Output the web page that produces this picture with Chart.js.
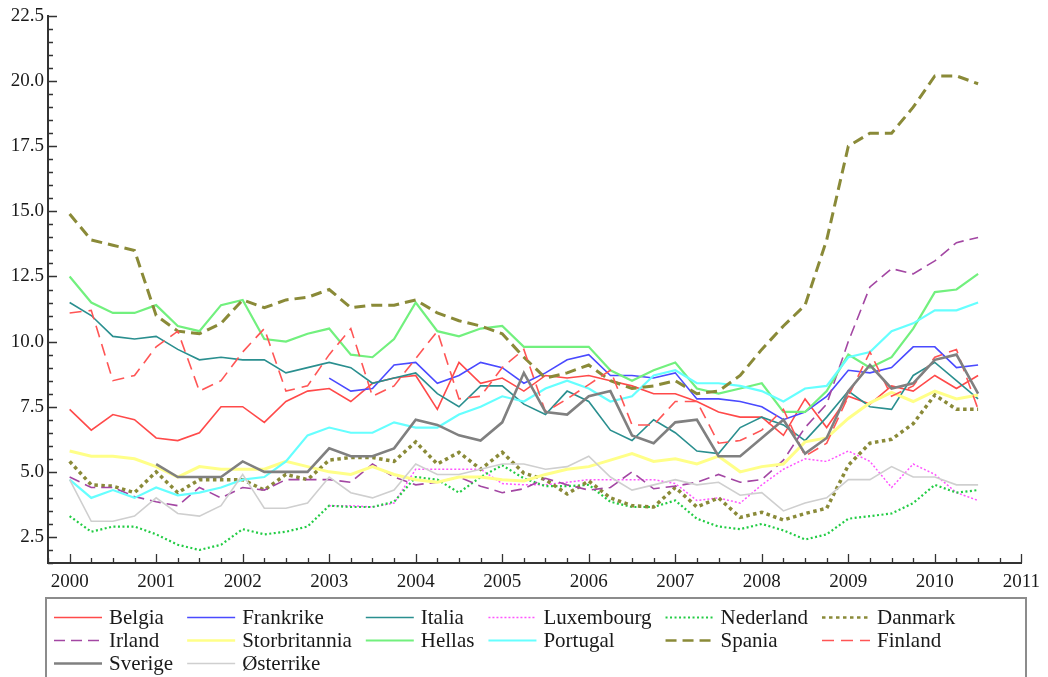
<!DOCTYPE html>
<html>
<head>
<meta charset="utf-8">
<script src="https://cdn.jsdelivr.net/npm/chart.js@4.4.1/dist/chart.umd.min.js"></script>
<style>
  html, body { margin: 0; padding: 0; background: #ffffff; }
  #wrap { width: 1048px; height: 677px; }
</style>
</head>
<body>
<div id="wrap"><canvas id="c" width="1048" height="677"></canvas></div>
<script>
// Quarterly observations, 2000 Q1 – 2010 Q3
const quarters = [
  2000.00, 2000.25, 2000.50, 2000.75, 2001.00, 2001.25, 2001.50, 2001.75,
  2002.00, 2002.25, 2002.50, 2002.75, 2003.00, 2003.25, 2003.50, 2003.75,
  2004.00, 2004.25, 2004.50, 2004.75, 2005.00, 2005.25, 2005.50, 2005.75,
  2006.00, 2006.25, 2006.50, 2006.75, 2007.00, 2007.25, 2007.50, 2007.75,
  2008.00, 2008.25, 2008.50, 2008.75, 2009.00, 2009.25, 2009.50, 2009.75,
  2010.00, 2010.25, 2010.50
];

const belgia = [7.4, 6.6, 7.2, 7.0, 6.3, 6.2, 6.5, 7.5, 7.5, 6.9, 7.7, 8.1,
  8.2, 7.7, 8.4, 8.6, 8.7, 7.4, 9.2, 8.4, 8.6, 8.1, 8.7, 8.6,
  8.7, 8.5, 8.3, 8.0, 8.0, 7.7, 7.3, 7.1, 7.1, 6.4, 7.8, 6.7,
  7.9, 7.6, 8.3, 8.1, 8.7, 8.2, 8.7];
const frankrike = [null, null, null, null, null, null, null, null, null, null, null, null,
  8.6, 8.1, 8.2, 9.1, 9.2, 8.4, 8.7, 9.2, 9.0, 8.4, 8.8, 9.3,
  9.5, 8.7, 8.7, 8.6, 8.8, 7.8, 7.8, 7.7, 7.5, 7.0, 7.3, 7.9,
  8.9, 8.8, 9.0, 9.8, 9.8, 9.0, 9.1];
const italia = [11.5, 11.0, 10.2, 10.1, 10.2, 9.7, 9.3, 9.4, 9.3, 9.3, 8.8, 9.0,
  9.2, 9.0, 8.4, 8.6, 8.8, 8.0, 7.5, 8.3, 8.3, 7.6, 7.2, 8.1,
  7.7, 6.6, 6.2, 7.0, 6.5, 5.8, 5.7, 6.7, 7.1, 6.8, 6.2, 7.1,
  8.1, 7.5, 7.4, 8.7, 9.2, 8.5, 7.8];
const luxembourg = [null, null, null, null, null, null, null, null, null, null, null, null,
  3.7, 3.7, 3.65, 3.8, 5.1, 5.1, 5.1, 5.1, 4.55, 4.5, 4.5, 4.6,
  4.7, 4.7, 4.7, 4.7, 4.55, 3.9, 4.0, 3.8, 4.5, 5.1, 5.5, 5.4,
  5.8, 5.4, 4.4, 5.3, 4.9, 4.2, 3.9];
const nederland = [3.3, 2.7, 2.9, 2.9, 2.6, 2.2, 2.0, 2.2, 2.8, 2.6, 2.7, 2.9,
  3.7, 3.65, 3.65, 3.85, 4.8, 4.7, 4.2, 4.8, 5.25, 4.75, 4.45, 4.45,
  4.5, 3.85, 3.65, 3.65, 3.9, 3.2, 2.9, 2.8, 3.0, 2.75, 2.4, 2.6,
  3.2, 3.3, 3.4, 3.8, 4.5, 4.2, 4.3];
const danmark = [5.4, 4.5, 4.45, 4.2, 5.0, 4.2, 4.7, 4.7, 4.7, 4.3, 4.9, 4.7,
  5.45, 5.55, 5.55, 5.4, 6.15, 5.3, 5.75, 5.1, 5.75, 4.95, 4.7, 4.15,
  4.65, 4.0, 3.7, 3.65, 4.4, 3.65, 4.0, 3.25, 3.45, 3.15, 3.4, 3.6,
  5.25, 6.1, 6.25, 6.85, 7.95, 7.4, 7.4];
const irland = [4.8, 4.4, 4.4, 4.05, 3.85, 3.7, 4.4, 4.0, 4.4, 4.3, 4.7, 4.7,
  4.7, 4.6, 5.3, 4.8, 4.5, 4.6, 4.8, 4.45, 4.2, 4.35, 4.75, 4.5,
  4.3, 4.4, 5.0, 4.35, 4.45, 4.6, 4.9, 4.6, 4.7, 5.45, 6.7, 7.6,
  10.0, 12.1, 12.8, 12.6, 13.1, 13.8, 14.0];
const storbritannia = [5.8, 5.6, 5.6, 5.5, 5.2, 4.8, 5.2, 5.1, 5.1, 5.1, 5.4, 5.2,
  5.0, 4.9, 5.2, 4.9, 4.7, 4.6, 4.8, 4.8, 4.7, 4.65, 4.9, 5.1,
  5.2, 5.45, 5.7, 5.4, 5.5, 5.3, 5.6, 5.0, 5.2, 5.3, 6.15, 6.3,
  7.05, 7.65, 8.05, 7.7, 8.1, 7.8, 7.95];
const hellas = [12.5, 11.5, 11.1, 11.1, 11.4, 10.6, 10.4, 11.4, 11.6, 10.1, 10.0, 10.3,
  10.5, 9.5, 9.4, 10.1, 11.5, 10.4, 10.2, 10.5, 10.6, 9.8, 9.8, 9.8,
  9.8, 8.9, 8.5, 8.9, 9.2, 8.2, 8.0, 8.2, 8.4, 7.3, 7.3, 8.1,
  9.5, 9.0, 9.4, 10.5, 11.9, 12.0, 12.6];
const portugal = [4.7, 4.0, 4.3, 4.0, 4.4, 4.1, 4.2, 4.4, 4.7, 4.8, 5.4, 6.4,
  6.7, 6.5, 6.5, 6.9, 6.7, 6.7, 7.2, 7.5, 7.9, 7.7, 8.2, 8.5,
  8.2, 7.7, 7.9, 8.7, 8.9, 8.4, 8.4, 8.3, 8.1, 7.7, 8.2, 8.3,
  9.4, 9.6, 10.4, 10.7, 11.2, 11.2, 11.5];
const spania = [14.9, 13.9, 13.7, 13.5, 11.0, 10.4, 10.3, 10.7, 11.6, 11.3, 11.6, 11.7,
  12.0, 11.3, 11.4, 11.4, 11.6, 11.1, 10.8, 10.6, 10.3, 9.4, 8.6, 8.8,
  9.1, 8.5, 8.2, 8.3, 8.5, 8.0, 8.1, 8.7, 9.7, 10.6, 11.4, 13.9,
  17.5, 18.0, 18.0, 19.0, 20.2, 20.2, 19.9];
const finland = [11.1, 11.2, 8.5, 8.7, 9.8, 10.4, 8.1, 8.5, 9.6, 10.5, 8.1, 8.3,
  9.5, 10.5, 7.9, 8.3, 9.35, 10.4, 7.8, 7.9, 9.0, 9.7, 7.3, 7.8,
  8.35, 8.9, 6.8, 6.8, 7.7, 7.7, 6.1, 6.2, 6.6, 7.4, 5.6, 6.1,
  7.9, 9.6, 7.9, 8.3, 9.4, 9.7, 7.4];
const sverige = [null, null, null, null, 5.3, 4.8, 4.8, 4.8, 5.4, 5.0, 5.0, 5.0,
  5.9, 5.6, 5.6, 5.9, 7.0, 6.8, 6.4, 6.2, 6.9, 8.8, 7.3, 7.2,
  7.9, 8.1, 6.4, 6.1, 6.9, 7.0, 5.6, 5.6, 6.3, 7.0, 5.7, 6.3,
  8.1, 9.1, 8.2, 8.4, 9.3, 9.5, 8.0];
const osterrike = [4.7, 3.1, 3.1, 3.3, 4.0, 3.4, 3.3, 3.7, 4.9, 3.6, 3.6, 3.8,
  4.8, 4.2, 4.0, 4.3, 5.3, 4.9, 4.9, 5.1, 5.3, 5.3, 5.1, 5.2,
  5.6, 4.8, 4.3, 4.5, 4.7, 4.5, 4.6, 4.1, 4.2, 3.5, 3.8, 4.0,
  4.7, 4.7, 5.2, 4.8, 4.8, 4.5, 4.5];

// Axis tick labels
const yTickValues = [2.5, 5.0, 7.5, 10.0, 12.5, 15.0, 17.5, 20.0, 22.5];
const xTickValues = [2000, 2001, 2002, 2003, 2004, 2005, 2006, 2007, 2008, 2009, 2010, 2011];

const seriesDefs = [
  { label: 'Belgia',        data: belgia,        color: '#ff4a4a', width: 1.6, dash: [] },
  { label: 'Frankrike',     data: frankrike,     color: '#4a4aff', width: 1.6, dash: [] },
  { label: 'Italia',        data: italia,        color: '#2a8f8f', width: 1.6, dash: [] },
  { label: 'Luxembourg',    data: luxembourg,    color: '#ff55ff', width: 1.5, dash: [2, 2] },
  { label: 'Nederland',     data: nederland,     color: '#22cc44', width: 2.2, dash: [2, 2.5] },
  { label: 'Danmark',       data: danmark,       color: '#8a8a38', width: 3.5, dash: [3.5, 3.5] },
  { label: 'Irland',        data: irland,        color: '#a347a3', width: 1.6, dash: [11, 6] },
  { label: 'Storbritannia', data: storbritannia, color: '#ffff88', width: 3, dash: [] },
  { label: 'Hellas',        data: hellas,        color: '#72f07e', width: 2.2, dash: [] },
  { label: 'Portugal',      data: portugal,      color: '#66ffff', width: 2.2, dash: [] },
  { label: 'Spania',        data: spania,        color: '#8a8a38', width: 3, dash: [11, 6] },
  { label: 'Finland',       data: finland,       color: '#ff5555', width: 1.6, dash: [12, 7] },
  { label: 'Sverige',       data: sverige,       color: '#808080', width: 2.6, dash: [] },
  { label: 'Østerrike',     data: osterrike,     color: '#cfcfcf', width: 1.6, dash: [] }
];

const FONT = '"Liberation Serif", "Times New Roman", serif';

const datasets = seriesDefs.map((s, i) => ({
  label: s.label,
  data: quarters.map((q, k) => ({ x: q, y: s.data[k] })),
  borderColor: s.color,
  backgroundColor: s.color,
  borderWidth: s.width,
  borderDash: s.dash,
  borderCapStyle: 'butt',
  borderJoinStyle: 'miter',
  pointRadius: 0,
  pointHoverRadius: 0,
  tension: 0,
  spanGaps: false,
  fill: false,
  order: seriesDefs.length - i
}));

// Inward tick marks: years with quarter subdivisions, values every 0.5
const innerTicks = {
  id: 'innerTicks',
  afterDatasetsDraw(chart) {
    const { ctx, chartArea: a, scales: { x, y } } = chart;
    ctx.save();
    ctx.strokeStyle = '#333333';
    ctx.lineWidth = 1.3;
    ctx.beginPath();
    for (let q = 0; q <= (x.max - x.min) * 4 + 1e-6; q++) {
      const v = x.min + q * 0.25;
      const px = Math.round(x.getPixelForValue(v)) + 0.5;
      const major = Math.abs(v - Math.round(v)) < 1e-6;
      const len = major ? 9 : 5;
      ctx.moveTo(px, a.bottom);
      ctx.lineTo(px, a.bottom - len);
    }
    for (let k = 0; k <= (y.max - y.min) * 2 + 1e-6; k++) {
      const v = y.min + k * 0.5;
      const py = Math.round(y.getPixelForValue(v)) + 0.5;
      const major = Math.abs(v / 2.5 - Math.round(v / 2.5)) < 1e-6;
      const len = major ? 9 : 5;
      ctx.moveTo(a.left, py);
      ctx.lineTo(a.left + len, py);
    }
    ctx.stroke();
    ctx.restore();
  }
};

// Boxed legend laid out as a grid of six columns
const gridLegend = {
  id: 'gridLegend',
  afterDraw(chart) {
    const { ctx } = chart;
    const cols = 6;
    const lineLen = 48, lineGap = 7, colGap = 14;
    const startX = 54, firstRowY = 617, rowStep = 23;
    ctx.save();
    ctx.font = '21px ' + FONT;
    const metas = chart.data.datasets;
    const colW = new Array(cols).fill(0);
    metas.forEach((ds, i) => {
      colW[i % cols] = Math.max(colW[i % cols], ctx.measureText(ds.label).width);
    });
    const colX = [];
    let cx = startX;
    for (let c = 0; c < cols; c++) {
      colX.push(cx);
      cx += lineLen + lineGap + colW[c] + colGap;
    }
    // frame
    ctx.strokeStyle = '#8c8c8c';
    ctx.lineWidth = 2;
    ctx.strokeRect(46, 598, 980, 110);
    metas.forEach((ds, i) => {
      const c = i % cols, r = Math.floor(i / cols);
      const lx = colX[c];
      const ly = firstRowY + r * rowStep;
      ctx.save();
      ctx.strokeStyle = ds.borderColor;
      ctx.lineWidth = Math.min(ds.borderWidth, 2.5);
      ctx.setLineDash(ds.borderDash || []);
      ctx.lineCap = 'butt';
      ctx.beginPath();
      ctx.moveTo(lx, ly + 0.5);
      ctx.lineTo(lx + lineLen, ly + 0.5);
      ctx.stroke();
      ctx.restore();
      ctx.fillStyle = '#1a1a1a';
      ctx.textBaseline = 'middle';
      ctx.textAlign = 'left';
      ctx.fillText(ds.label, lx + lineLen + lineGap, ly + 1);
    });
    ctx.restore();
  }
};

new Chart(document.getElementById('c'), {
  type: 'line',
  data: { datasets },
  plugins: [innerTicks, gridLegend],
  options: {
    responsive: false,
    animation: false,
    devicePixelRatio: 1,
    layout: { padding: { top: 16, right: 21, bottom: 0, left: 0 } },
    plugins: {
      legend: { display: false },
      tooltip: { enabled: false },
      title: { display: false }
    },
    scales: {
      x: {
        type: 'linear',
        min: 1999.75,
        max: 2011,
        bounds: 'data',
        afterFit(scale) { scale.height = 114; },
        afterBuildTicks(scale) { scale.ticks = xTickValues.map(v => ({ value: v })); },
        grid: { display: true, drawOnChartArea: false, drawTicks: false },
        border: { display: true, color: '#333333', width: 2 },
        ticks: {
          autoSkip: false,
          maxRotation: 0,
          padding: 8,
          color: '#1a1a1a',
          font: { family: FONT, size: 19 },
          callback: v => String(v)
        }
      },
      y: {
        type: 'linear',
        min: 1.5,
        max: 22.5,
        bounds: 'data',
        afterFit(scale) { scale.width = 48; },
        afterBuildTicks(scale) { scale.ticks = yTickValues.map(v => ({ value: v })); },
        grid: { display: true, drawOnChartArea: false, drawTicks: false },
        border: { display: true, color: '#333333', width: 2 },
        ticks: {
          autoSkip: false,
          padding: 4,
          color: '#1a1a1a',
          font: { family: FONT, size: 19 },
          callback: v => v.toFixed(1)
        }
      }
    }
  }
});
</script>
</body>
</html>
